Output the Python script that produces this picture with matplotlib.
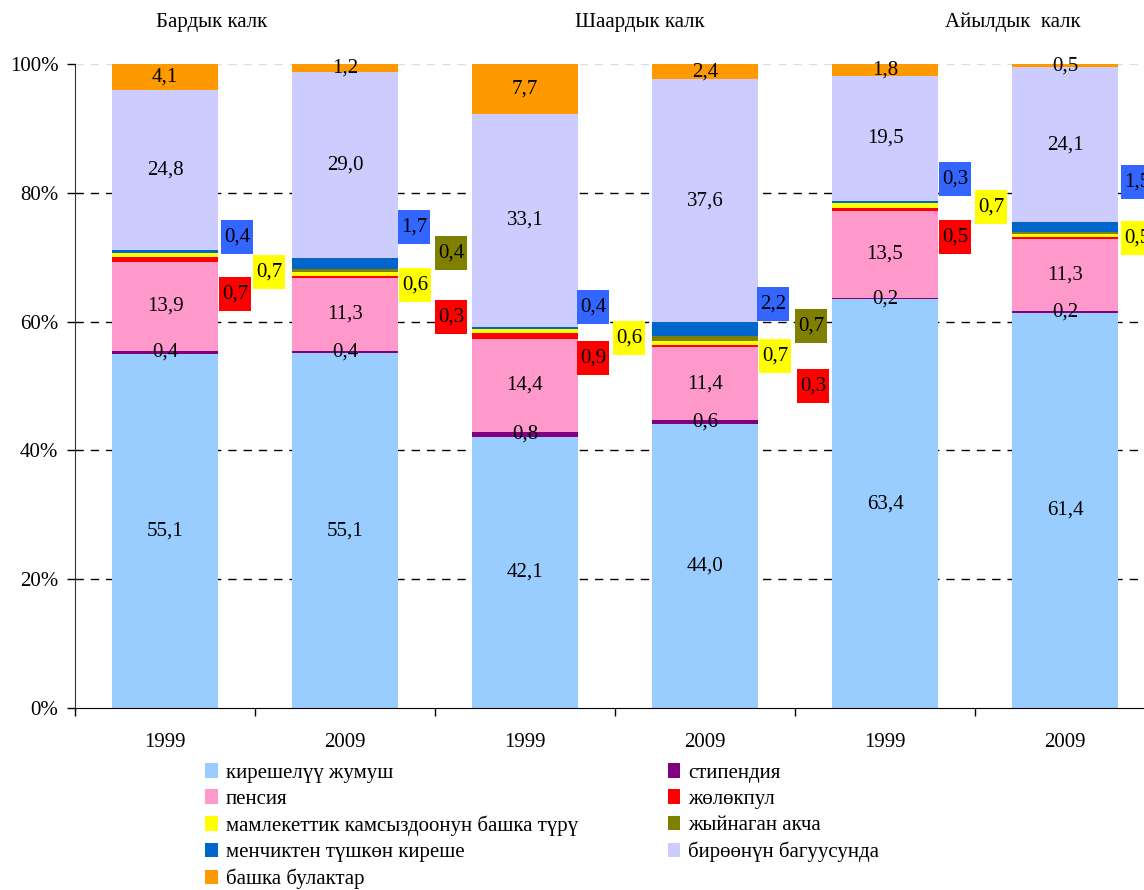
import numpy as np
import matplotlib.pyplot as plt
from matplotlib.patches import Rectangle
from matplotlib.ticker import FuncFormatter

plt.rcParams['font.family'] = ['Liberation Serif', 'DejaVu Serif']

years = ['1999', '2009', '1999', '2009', '1999', '2009']
groups = ['Бардык калк', 'Шаардык калк', 'Айылдык  калк']

# series, bottom to top of each bar
kireshe = [55.1, 55.1, 42.1, 44.0, 63.4, 61.4]
stipend = [0.4, 0.4, 0.8, 0.6, 0.2, 0.2]
pensiya = [13.9, 11.3, 14.4, 11.4, 13.5, 11.3]
zholokpul = [0.7, 0.3, 0.9, 0.3, 0.5, 0.2]
mamleket = [0.7, 0.6, 0.6, 0.7, 0.7, 0.5]
zhyinagan = [0.0, 0.4, 0.0, 0.7, 0.0, 0.3]
menchik = [0.4, 1.7, 0.4, 2.2, 0.3, 1.5]
biroo = [24.8, 29.0, 33.1, 37.6, 19.5, 24.1]
bashka = [4.1, 1.2, 7.7, 2.4, 1.8, 0.5]

names = ['кирешелүү жумуш', 'стипендия', 'пенсия', 'жөлөкпул',
         'мамлекеттик камсыздоонун башка түрү', 'жыйнаган акча',
         'менчиктен түшкөн киреше', 'бирөөнүн багуусунда', 'башка булактар']
values = [kireshe, stipend, pensiya, zholokpul, mamleket, zhyinagan, menchik, biroo, bashka]
colors = ['#99CCFF', '#800080', '#FF99CC', '#FF0000', '#FFFF00', '#808000',
          '#0066CC', '#CCCCFF', '#FF9900']

# which series get a value inside the bar, which get a coloured box beside it
inside = [0, 1, 2, 7, 8]
box_color = {3: '#FF0000', 4: '#FFFF00', 5: '#808000', 6: '#3366FF'}
# callout placement: (series, bar, dx, y)
callouts = [(6, 0, 0.40, 73.1), (4, 0, 0.58, 67.7), (3, 0, 0.39, 64.3),
            (6, 1, 0.385, 74.7), (5, 1, 0.59, 70.7), (4, 1, 0.39, 65.7), (3, 1, 0.59, 60.7),
            (6, 2, 0.38, 62.3), (4, 2, 0.58, 57.5), (3, 2, 0.38, 54.3),
            (6, 3, 0.38, 62.7), (5, 3, 0.59, 59.3), (4, 3, 0.39, 54.7), (3, 3, 0.60, 50.0),
            (6, 4, 0.39, 82.1), (4, 4, 0.59, 77.8), (3, 4, 0.39, 73.1),
            (6, 5, 0.40, 81.7), (4, 5, 0.40, 73.0), (3, 5, 0.62, 67.0), (5, 5, 0.62, 62.0)]


def fmt(v):
    return ('%.1f' % v).replace('.', ',')


fig = plt.figure(figsize=(11.44, 8.90), dpi=100)
ax = fig.add_axes([75 / 1144, 182 / 890, 1080 / 1144, 644 / 890])

x = np.arange(len(years))
totals = np.sum(np.array(values), axis=0)
bottom = np.zeros(len(years))
bars = []
for i, (vals, c) in enumerate(zip(values, colors)):
    vals = np.array(vals)
    h = vals / totals * 100  # 100% stacked
    b = ax.bar(x, h, 0.59, bottom=bottom, color=c, zorder=2, label=names[i])
    bars.append(b)
    if i in inside:
        for j in range(len(x)):
            ax.text(x[j], bottom[j] + h[j] / 2, fmt(vals[j]), ha='center', va='center',
                    fontsize=15, zorder=4)
    bottom += h

# label boxes, 32 x 34 px
bw, bh = 32 / 180, 34 / 6.44
for s, j, dx, y in callouts:
    cx = x[j] + dx
    ax.add_patch(Rectangle((cx - bw / 2, y - bh / 2), bw, bh, fc=box_color[s], ec='none',
                           zorder=5, clip_on=False))
    ax.text(cx, y, fmt(values[s][j]), ha='center', va='center', fontsize=15, zorder=6,
            clip_on=False)

for y in [20, 40, 60, 80]:
    ax.axhline(y, color='black', lw=1, dashes=(6, 5), zorder=1)
ax.axhline(100, color='#dddddd', lw=1, dashes=(6, 5), zorder=1)

ax.set_xlim(-0.5, len(years) - 0.5)
ax.set_ylim(0, 100)
ax.set_yticks([0, 20, 40, 60, 80, 100])
ax.yaxis.set_major_formatter(FuncFormatter(lambda v, p: '%d%%' % v))
ax.set_xticks(x)
ax.set_xticklabels(years)
ax.set_xticks(np.arange(-0.5, len(years), 1), minor=True)
ax.tick_params(axis='x', which='major', length=0, pad=18, labelsize=15)
ax.tick_params(axis='x', which='minor', length=6, width=1)
ax.tick_params(axis='y', length=6, width=1, labelsize=15, pad=6)
for sp in ['top', 'right']:
    ax.spines[sp].set_visible(False)
ax.spines['left'].set_color('#333333')

for gx, name in zip([0.26, 2.64, 4.71], groups):
    ax.text(gx, 106.5, name, ha='center', va='center', fontsize=15, clip_on=False)

order = [0, 2, 4, 6, 8, 1, 3, 5, 7]
fig.legend([bars[k] for k in order], [names[k] for k in order], ncol=2,
           loc='upper left', bbox_to_anchor=(205 / 1144, 127 / 890),
           frameon=False, fontsize=15, handlelength=0.6, handleheight=0.7,
           handletextpad=0.4, labelspacing=0.32, columnspacing=4.3, borderpad=0,
           borderaxespad=0)

fig.savefig('out.png', dpi=100)
